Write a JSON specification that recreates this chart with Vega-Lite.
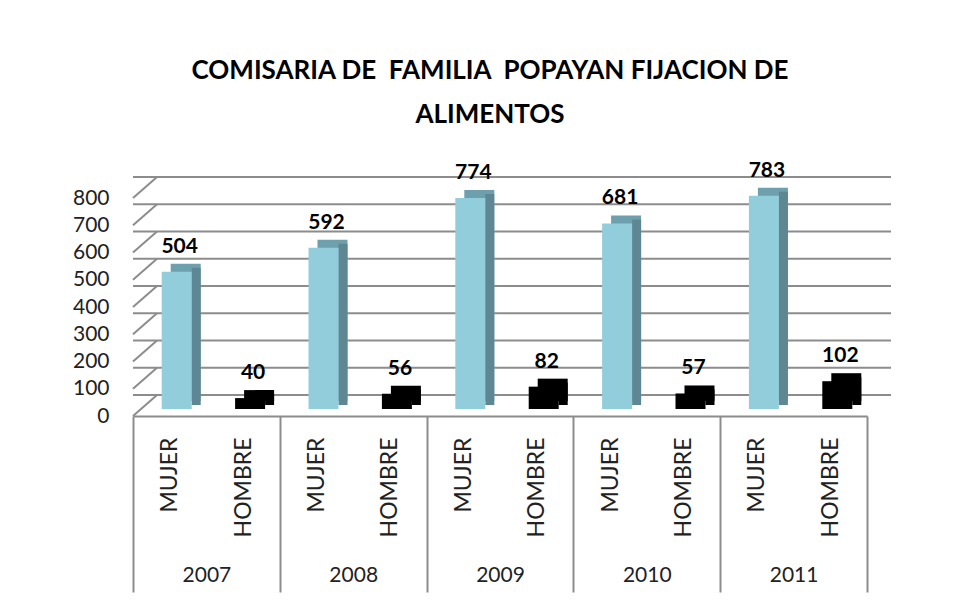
{
  "$schema": "https://vega.github.io/schema/vega-lite/v6.json",
  "width": 734,
  "height": 218,
  "autosize": {"type": "none"},
  "padding": {"left": 133, "top": 198, "right": 91, "bottom": 192},
  "background": "white",
  "config": {
    "view": {"stroke": null},
    "font": "Lato",
    "axisY": {
      "title": null, "ticks": false, "domain": false, "grid": false, "labelOverlap": false,
      "tickCount": 9, "labelFont": "Lato", "labelFontSize": 21, "labelColor": "#222222", "labelPadding": 24
    }
  },
  "title": {
    "text": ["COMISARIA DE\u00a0 FAMILIA\u00a0 POPAYAN FIJACION DE", "ALIMENTOS"],
    "font": "Lato",
    "fontSize": 26,
    "fontWeight": "bold",
    "color": "#000000",
    "lineHeight": 44,
    "anchor": "middle",
    "frame": "group",
    "dx": -10,
    "offset": 32
  },
  "datasets": {
    "main": [
      {"year": "2007", "sexo": "MUJER", "valor": 504},
      {"year": "2007", "sexo": "HOMBRE", "valor": 40},
      {"year": "2008", "sexo": "MUJER", "valor": 592},
      {"year": "2008", "sexo": "HOMBRE", "valor": 56},
      {"year": "2009", "sexo": "MUJER", "valor": 774},
      {"year": "2009", "sexo": "HOMBRE", "valor": 82},
      {"year": "2010", "sexo": "MUJER", "valor": 681},
      {"year": "2010", "sexo": "HOMBRE", "valor": 57},
      {"year": "2011", "sexo": "MUJER", "valor": 783},
      {"year": "2011", "sexo": "HOMBRE", "valor": 102}
    ],
    "grid": [
      {"v": 0}, {"v": 100}, {"v": 200}, {"v": 300}, {"v": 400},
      {"v": 500}, {"v": 600}, {"v": 700}, {"v": 800}
    ]
  },
  "resolve": {"scale": {"x": "independent"}, "axis": {"x": "independent"}},
  "layer": [
    {
      "data": {"name": "grid"},
      "mark": {"type": "rule", "color": "#8c8c8c", "strokeWidth": 2, "xOffset": 24, "x2Offset": 24, "yOffset": -21},
      "encoding": {
        "y": {
          "field": "v", "type": "quantitative",
          "scale": {"domain": [0, 800]},
          "axis": {"values": [0, 100, 200, 300, 400, 500, 600, 700, 800], "labelOverlap": false}
        }
      }
    },
    {
      "data": {"name": "grid"},
      "mark": {"type": "rule", "color": "#8c8c8c", "strokeWidth": 2, "x2Offset": 24, "y2Offset": -21},
      "encoding": {
        "x": {
          "datum": 0, "type": "quantitative",
          "scale": {"domain": [0, 5]},
          "axis": {
            "orient": "bottom", "values": [0, 1, 2, 3, 4, 5], "tickSize": 176,
            "tickColor": "#8c8c8c", "tickWidth": 2, "labels": false, "domain": false,
            "grid": false, "title": null
          }
        },
        "x2": {"datum": 0},
        "y": {"field": "v", "type": "quantitative", "axis": {"values": [0, 100, 200, 300, 400, 500, 600, 700, 800], "labelOverlap": false}},
        "y2": {"field": "v"}
      }
    },
    {
      "mark": {"type": "rule", "color": "#8c8c8c", "strokeWidth": 2},
      "encoding": {
        "x": {"datum": 0, "type": "quantitative", "scale": {"domain": [0, 5]}, "axis": null},
        "y": {"datum": 0, "type": "quantitative", "axis": {"values": [0, 100, 200, 300, 400, 500, 600, 700, 800], "labelOverlap": false}},
        "y2": {"datum": 800}
      }
    },
    {
      "mark": {"type": "rule", "color": "#8c8c8c", "strokeWidth": 2, "xOffset": 24, "yOffset": -21, "y2Offset": -21},
      "encoding": {
        "x": {"datum": 0, "type": "quantitative", "scale": {"domain": [0, 5]}, "axis": null},
        "y": {"datum": 0, "type": "quantitative", "axis": {"values": [0, 100, 200, 300, 400, 500, 600, 700, 800], "labelOverlap": false}},
        "y2": {"datum": 800}
      }
    },
    {
      "mark": {"type": "rule", "color": "#8c8c8c", "strokeWidth": 2, "x2Offset": 24, "y2Offset": -21},
      "encoding": {
        "x": {"datum": 5, "type": "quantitative", "scale": {"domain": [0, 5]}, "axis": null},
        "x2": {"datum": 5},
        "y": {"datum": 0, "type": "quantitative", "axis": {"values": [0, 100, 200, 300, 400, 500, 600, 700, 800], "labelOverlap": false}},
        "y2": {"datum": 0}
      }
    },
    {
      "data": {"name": "main"},
      "mark": {"type": "text", "opacity": 0},
      "encoding": {
        "x": {
          "field": "year", "type": "nominal", "sort": null,
          "axis": {
            "orient": "bottom", "title": null, "ticks": false, "domain": false, "grid": false,
            "labelAngle": 0, "labelFont": "Lato", "labelFontSize": 21, "labelColor": "#222222", "labelPadding": 148
          }
        }
      }
    },
    {
      "data": {"name": "main"},
      "transform": [{"calculate": "datum.year + '-' + datum.sexo", "as": "cat"}],
      "mark": {"type": "text", "opacity": 0},
      "encoding": {
        "x": {
          "field": "cat", "type": "nominal", "sort": null,
          "scale": {"paddingInner": 0, "paddingOuter": 0},
          "axis": {
            "orient": "bottom", "title": null, "ticks": false, "grid": false,
            "domain": true, "domainColor": "#8c8c8c", "domainWidth": 2,
            "labelExpr": "split(datum.value, '-')[1]",
            "labelAngle": -90, "labelAlign": "right", "labelBaseline": "middle", "labelOverlap": false,
            "labelFont": "Lato", "labelFontSize": 23, "labelColor": "#222222", "labelPadding": 21
          }
        }
      }
    },
    {
      "data": {"name": "main"},
      "transform": [{"calculate": "datum.year + '-' + datum.sexo", "as": "cat"}],
      "mark": {"type": "bar", "width": 30, "xOffset": 16, "yOffset": -15, "y2Offset": -15},
      "encoding": {
        "x": {"field": "cat", "type": "nominal", "sort": null, "scale": {"paddingInner": 0, "paddingOuter": 0}, "axis": null},
        "y": {"field": "valor", "type": "quantitative", "axis": {"values": [0, 100, 200, 300, 400, 500, 600, 700, 800], "labelOverlap": false}},
        "color": {"condition": {"test": "datum.sexo === 'MUJER'", "value": "#6e9fac"}, "value": "#000000"}
      }
    },
    {
      "data": {"name": "main"},
      "transform": [{"calculate": "datum.year + '-' + datum.sexo", "as": "cat"}],
      "mark": {"type": "bar", "width": 9, "xOffset": 26.5, "yOffset": -11, "y2Offset": -11},
      "encoding": {
        "x": {"field": "cat", "type": "nominal", "sort": null, "scale": {"paddingInner": 0, "paddingOuter": 0}, "axis": null},
        "y": {"field": "valor", "type": "quantitative", "axis": {"values": [0, 100, 200, 300, 400, 500, 600, 700, 800], "labelOverlap": false}},
        "color": {"condition": {"test": "datum.sexo === 'MUJER'", "value": "#5e8793"}, "value": "#000000"}
      }
    },
    {
      "data": {"name": "main"},
      "transform": [{"calculate": "datum.year + '-' + datum.sexo", "as": "cat"}],
      "mark": {"type": "bar", "width": 30, "xOffset": 7, "yOffset": -7, "y2Offset": -7},
      "encoding": {
        "x": {"field": "cat", "type": "nominal", "sort": null, "scale": {"paddingInner": 0, "paddingOuter": 0}, "axis": null},
        "y": {"field": "valor", "type": "quantitative", "axis": {"values": [0, 100, 200, 300, 400, 500, 600, 700, 800], "labelOverlap": false}},
        "color": {"condition": {"test": "datum.sexo === 'MUJER'", "value": "#92cddc"}, "value": "#000000"}
      }
    },
    {
      "data": {"name": "main"},
      "transform": [{"calculate": "datum.year + '-' + datum.sexo", "as": "cat"}],
      "mark": {"type": "text", "xOffset": 10, "yOffset": -26, "baseline": "alphabetic", "font": "Lato", "fontSize": 21, "fontWeight": "bold", "color": "#000000"},
      "encoding": {
        "x": {"field": "cat", "type": "nominal", "sort": null, "scale": {"paddingInner": 0, "paddingOuter": 0}, "axis": null},
        "y": {"field": "valor", "type": "quantitative", "axis": {"values": [0, 100, 200, 300, 400, 500, 600, 700, 800], "labelOverlap": false}},
        "text": {"field": "valor", "type": "quantitative"}
      }
    }
  ]
}
